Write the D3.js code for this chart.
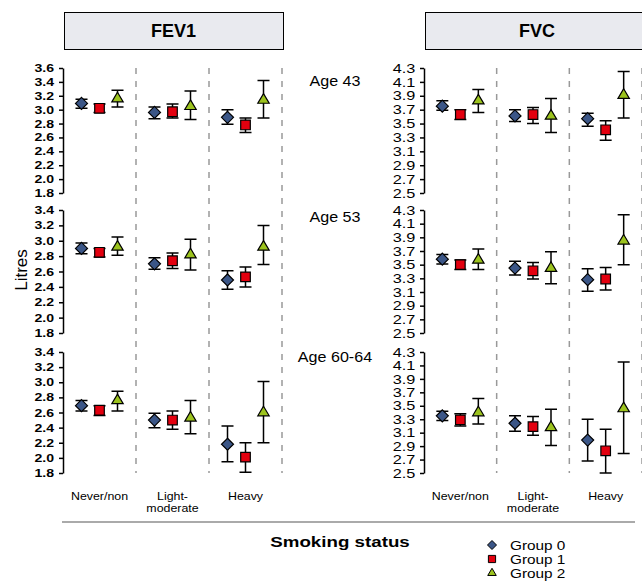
<!DOCTYPE html>
<html lang="en">
<head>
<meta charset="utf-8">
<title>FEV1 / FVC by smoking status</title>
<script src="https://d3js.org/d3.v7.min.js"></script>
<style>
    body { margin: 0; background: #fff; }
    svg { font-family: Arial, "Liberation Sans", sans-serif; }
    .ebar { stroke: #000; stroke-width: 1.5; fill: none; }
    .divider { stroke: #999; stroke-width: 1.5; stroke-dasharray: 6,7; }
    .axis path, .axis line { stroke: #000; stroke-width: 1.5; }
</style>
</head>
<body>
<div id="chart"></div>
<script>

// ---- data ----
const categories = ["Never/non", "Light-moderate", "Heavy"];
const catLabels = [["Never/non"], ["Light-", "moderate"], ["Heavy"]];
const groups = ["Group 0", "Group 1", "Group 2"];
const ages = ["Age 43", "Age 53", "Age 60-64"];
const measures = ["FEV1", "FVC"];

// [age][category][group]
const fev1Mean = [
    [[3.09, 3.02, 3.16], [2.96, 2.97, 3.05], [2.89, 2.78, 3.14]],
    [[2.90, 2.85, 2.92], [2.70, 2.74, 2.82], [2.49, 2.53, 2.92]],
    [[2.69, 2.63, 2.76], [2.50, 2.50, 2.53], [2.18, 2.01, 2.60]]
];
const fev1Low = [
    [[3.02, 2.96, 3.04], [2.87, 2.88, 2.86], [2.79, 2.67, 2.88]],
    [[2.83, 2.79, 2.81], [2.63, 2.64, 2.62], [2.37, 2.40, 2.69]],
    [[2.62, 2.56, 2.62], [2.40, 2.38, 2.32], [1.95, 1.81, 2.20]]
];
const fev1High = [
    [[3.15, 3.08, 3.28], [3.04, 3.08, 3.27], [3.00, 2.88, 3.42]],
    [[2.97, 2.90, 3.05], [2.78, 2.84, 3.02], [2.61, 2.66, 3.20]],
    [[2.76, 2.69, 2.88], [2.59, 2.62, 2.76], [2.42, 2.20, 3.01]]
];

const fvcMean = [
    [[3.75, 3.63, 3.83], [3.61, 3.63, 3.61], [3.57, 3.41, 3.91]],
    [[3.58, 3.50, 3.57], [3.45, 3.41, 3.45], [3.28, 3.29, 3.85]],
    [[3.35, 3.29, 3.40], [3.24, 3.19, 3.18], [2.99, 2.83, 3.46]]
];
const fvcLow = [
    [[3.69, 3.56, 3.66], [3.53, 3.50, 3.37], [3.46, 3.26, 3.58]],
    [[3.51, 3.43, 3.43], [3.35, 3.29, 3.22], [3.11, 3.13, 3.50]],
    [[3.28, 3.20, 3.23], [3.12, 3.06, 2.91], [2.68, 2.50, 2.79]]
];
const fvcHigh = [
    [[3.83, 3.70, 3.99], [3.70, 3.73, 3.86], [3.65, 3.54, 4.25]],
    [[3.65, 3.57, 3.73], [3.55, 3.53, 3.69], [3.44, 3.46, 4.23]],
    [[3.42, 3.38, 3.61], [3.35, 3.34, 3.45], [3.30, 3.15, 4.15]]
];

const fev1Domains = [[1.8, 3.6], [1.8, 3.4], [1.8, 3.4]];
const fvcDomain = [2.5, 4.3];

const groupColors = ["#3b5687", "#e3000f", "#9cc31e"];

// ---- layout ----
const W = 642, H = 581;
const panelTop = [68, 210, 352];
const panelH = [125, 123, 121];
const ageLabelY = [86, 222, 362];
const cols = [
    {axisX: 63, right: 282, header: [64, 283]},
    {axisX: 424, right: 642, header: [425, 660]}
];
const groupOffset = [-18, 0, 18];

const svg = d3.select("#chart").append("svg")
    .attr("width", W).attr("height", H);

// symbol paths
function markerPath(g, s) {
    if (g === 0) return `M0,${-s}L${s},0L0,${s}L${-s},0Z`;
    if (g === 1) return `M${-s * 0.8},${-s * 0.8}H${s * 0.8}V${s * 0.8}H${-s * 0.8}Z`;
    return `M0,${-s * 1.05}L${s * 0.95},${s * 0.55}H${-s * 0.95}Z`;
}

// text that is a bit wider than it is tall, like the original
function wideText(x, y, sx, size) {
    return svg.append("text")
        .attr("transform", `translate(${x},${y}) scale(${sx},1)`)
        .attr("text-anchor", "middle")
        .attr("font-size", size);
}

// headers
measures.forEach((m, c) => {
    const col = cols[c];
    svg.append("rect")
        .attr("x", col.header[0] + 0.5).attr("y", 12.5)
        .attr("width", col.header[1] - col.header[0]).attr("height", 37)
        .attr("fill", "#e9eaef").attr("stroke", "#000").attr("stroke-width", 1);
    svg.append("text")
        .attr("x", c === 0 ? (col.header[0] + col.header[1]) / 2 : 537)
        .attr("y", 37)
        .attr("text-anchor", "middle")
        .attr("font-size", "18px").attr("font-weight", "bold")
        .text(m);
});

measures.forEach((m, c) => {
    const col = cols[c];
    const x = d3.scaleBand().domain(categories).range([col.axisX, col.right]);

    // dashed dividers
    categories.forEach(cat => {
        svg.append("line").attr("class", "divider")
            .attr("x1", x(cat) + x.bandwidth()).attr("x2", x(cat) + x.bandwidth())
            .attr("y1", panelTop[0]).attr("y2", panelTop[2] + panelH[2]);
    });

    ages.forEach((age, a) => {
        const dom = c === 0 ? fev1Domains[a] : fvcDomain;
        const y = d3.scaleLinear().domain(dom)
            .range([panelTop[a] + panelH[a], panelTop[a]]);
        const ticks = d3.range(Math.round((dom[1] - dom[0]) / 0.2) + 1).map(i => dom[0] + i * 0.2);

        const ax = svg.append("g").attr("class", "axis")
            .attr("transform", `translate(${col.axisX},0)`)
            .call(d3.axisLeft(y).tickValues(ticks).tickFormat(d3.format(".1f"))
                .tickSize(4).tickSizeOuter(0).tickPadding(3));
        ax.selectAll("text")
            .attr("fill", "#000")
            .attr("font-family", "Arial, 'Liberation Sans', sans-serif")
            .attr("font-size", c === 0 ? "11px" : "13px")
            .attr("font-weight", c === 0 ? "bold" : "normal")
            .attr("transform", c === 0 ? "scale(1.28,1)" : "scale(1.25,1)");

        const mean = c === 0 ? fev1Mean : fvcMean;
        const lo = c === 0 ? fev1Low : fvcLow;
        const hi = c === 0 ? fev1High : fvcHigh;

        categories.forEach((cat, k) => {
            const cx = x(cat) + x.bandwidth() / 2;
            groups.forEach((g, j) => {
                const px = cx + groupOffset[j];
                const eg = svg.append("g");
                eg.append("path").attr("class", "ebar")
                    .attr("d", `M${px},${y(hi[a][k][j])}V${y(lo[a][k][j])}` +
                        `M${px - 6},${y(hi[a][k][j])}H${px + 6}` +
                        `M${px - 6},${y(lo[a][k][j])}H${px + 6}`);
                eg.append("path")
                    .attr("transform", `translate(${px},${y(mean[a][k][j])})`)
                    .attr("d", markerPath(j, 6))
                    .attr("fill", groupColors[j])
                    .attr("stroke", "#000").attr("stroke-width", 1.2);
            });
        });
    });

    // category labels
    categories.forEach((cat, k) => {
        const t = wideText(x(cat) + x.bandwidth() / 2, 500, 1.18, "10.5px");
        catLabels[k].forEach((line, i) => {
            t.append("tspan").attr("x", 0)
                .attr("dy", i === 0 ? 0 : 12).text(line);
        });
    });
});

// age labels
ages.forEach((age, a) => {
    wideText(335, ageLabelY[a], 1.15, "14px").text(age);
});

// y title
svg.append("text")
    .attr("transform", "translate(27,270) rotate(-90)")
    .attr("text-anchor", "middle")
    .attr("font-size", "17px")
    .text("Litres");

// bottom rule
svg.append("line")
    .attr("x1", 62).attr("x2", 635).attr("y1", 522).attr("y2", 522)
    .attr("stroke", "#aaa").attr("stroke-width", 2);

wideText(340, 547, 1.25, "15px")
    .attr("font-weight", "bold")
    .text("Smoking status");

// legend
groups.forEach((g, j) => {
    const ly = 545 + j * 14;
    svg.append("path")
        .attr("transform", `translate(492,${ly})`)
        .attr("d", markerPath(j, 4.5))
        .attr("fill", groupColors[j])
        .attr("stroke", "#000").attr("stroke-width", 1);
    svg.append("text")
        .attr("transform", `translate(510,${ly + 5}) scale(1.18,1)`)
        .attr("font-size", "13px")
        .text(g);
});

</script>
</body>
</html>
